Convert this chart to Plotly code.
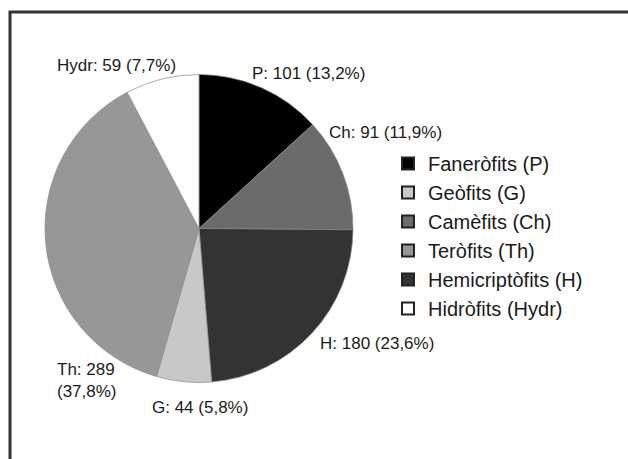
import plotly.graph_objects as go

# Data (slice order, clockwise from 12 o'clock)
codes = ["P", "Ch", "H", "G", "Th", "Hydr"]
values = [101, 91, 180, 44, 289, 59]
colors = ["#000000", "#6b6b6b", "#333333", "#c8c8c8", "#979797", "#ffffff"]

# Legend order
legend_names = ["Faneròfits (P)", "Geòfits (G)", "Camèfits (Ch)",
                "Teròfits (Th)", "Hemicriptòfits (H)", "Hidròfits (Hydr)"]
legend_codes = ["P", "G", "Ch", "Th", "H", "Hydr"]

W, H = 628, 459
FONT = "Liberation Sans, Arial, sans-serif"

total = sum(values)
def fmt(code, v, br=False):
    pct = f"{100 * v / total:.1f}".replace(".", ",")
    sep = "<br>" if br else " "
    return f"{code}: {v}{sep}({pct}%)"

fig = go.Figure()
fig.add_trace(go.Pie(
    labels=codes, values=values, sort=False, direction="clockwise", rotation=0,
    marker=dict(colors=colors, line=dict(color="#8a8a8a", width=0.7)),
    textinfo="none", hoverinfo="label+value+percent", showlegend=False,
    domain=dict(x=[45 / W, 353 / W], y=[1 - 383 / H, 1 - 74 / H]),
))

cmap = dict(zip(codes, colors))
for name, code in zip(legend_names, legend_codes):
    fig.add_trace(go.Scatter(
        x=[None], y=[None], mode="markers", name=name,
        marker=dict(symbol="square", size=16, color=cmap[code],
                    line=dict(color="#222222", width=1)),
    ))

# label placement (left x, center y in pixels)
label_pos = {"Hydr": (55, 65), "P": (250, 73), "Ch": (327, 132),
             "H": (318, 343), "G": (150, 407), "Th": (55, 380)}
annotations = []
for code, v in zip(codes, values):
    lx, ly = label_pos[code]
    annotations.append(dict(
        x=lx / W, y=1 - ly / H, xref="paper", yref="paper",
        xanchor="left", yanchor="middle", align="left", showarrow=False,
        text=fmt(code, v, br=(code == "Th")),
        font=dict(family=FONT, size=17, color="#1a1a1a"),
    ))

fig.update_layout(
    width=W, height=H, margin=dict(l=0, r=0, t=0, b=0),
    paper_bgcolor="white", plot_bgcolor="white",
    xaxis=dict(visible=False), yaxis=dict(visible=False),
    showlegend=True,
    legend=dict(x=388 / W, y=1 - 144 / H, xanchor="left", yanchor="top",
                font=dict(family=FONT, size=20, color="#1a1a1a"),
                tracegroupgap=0, itemsizing="constant", bgcolor="rgba(0,0,0,0)"),
    annotations=annotations,
    shapes=[dict(type="rect", xref="paper", yref="paper",
                 x0=10 / W, x1=1.05, y0=-0.05, y1=1 - 12 / H,
                 line=dict(color="#333333", width=3))],
)

fig.write_html("out.html", config={"displayModeBar": False})

# remove the default page margin so the figure sits at the window origin
with open("out.html", encoding="utf-8") as f:
    html = f.read()
html = html.replace("<body>", '<body style="margin:0;padding:0;overflow:hidden">', 1)
with open("out.html", "w", encoding="utf-8") as f:
    f.write(html)
